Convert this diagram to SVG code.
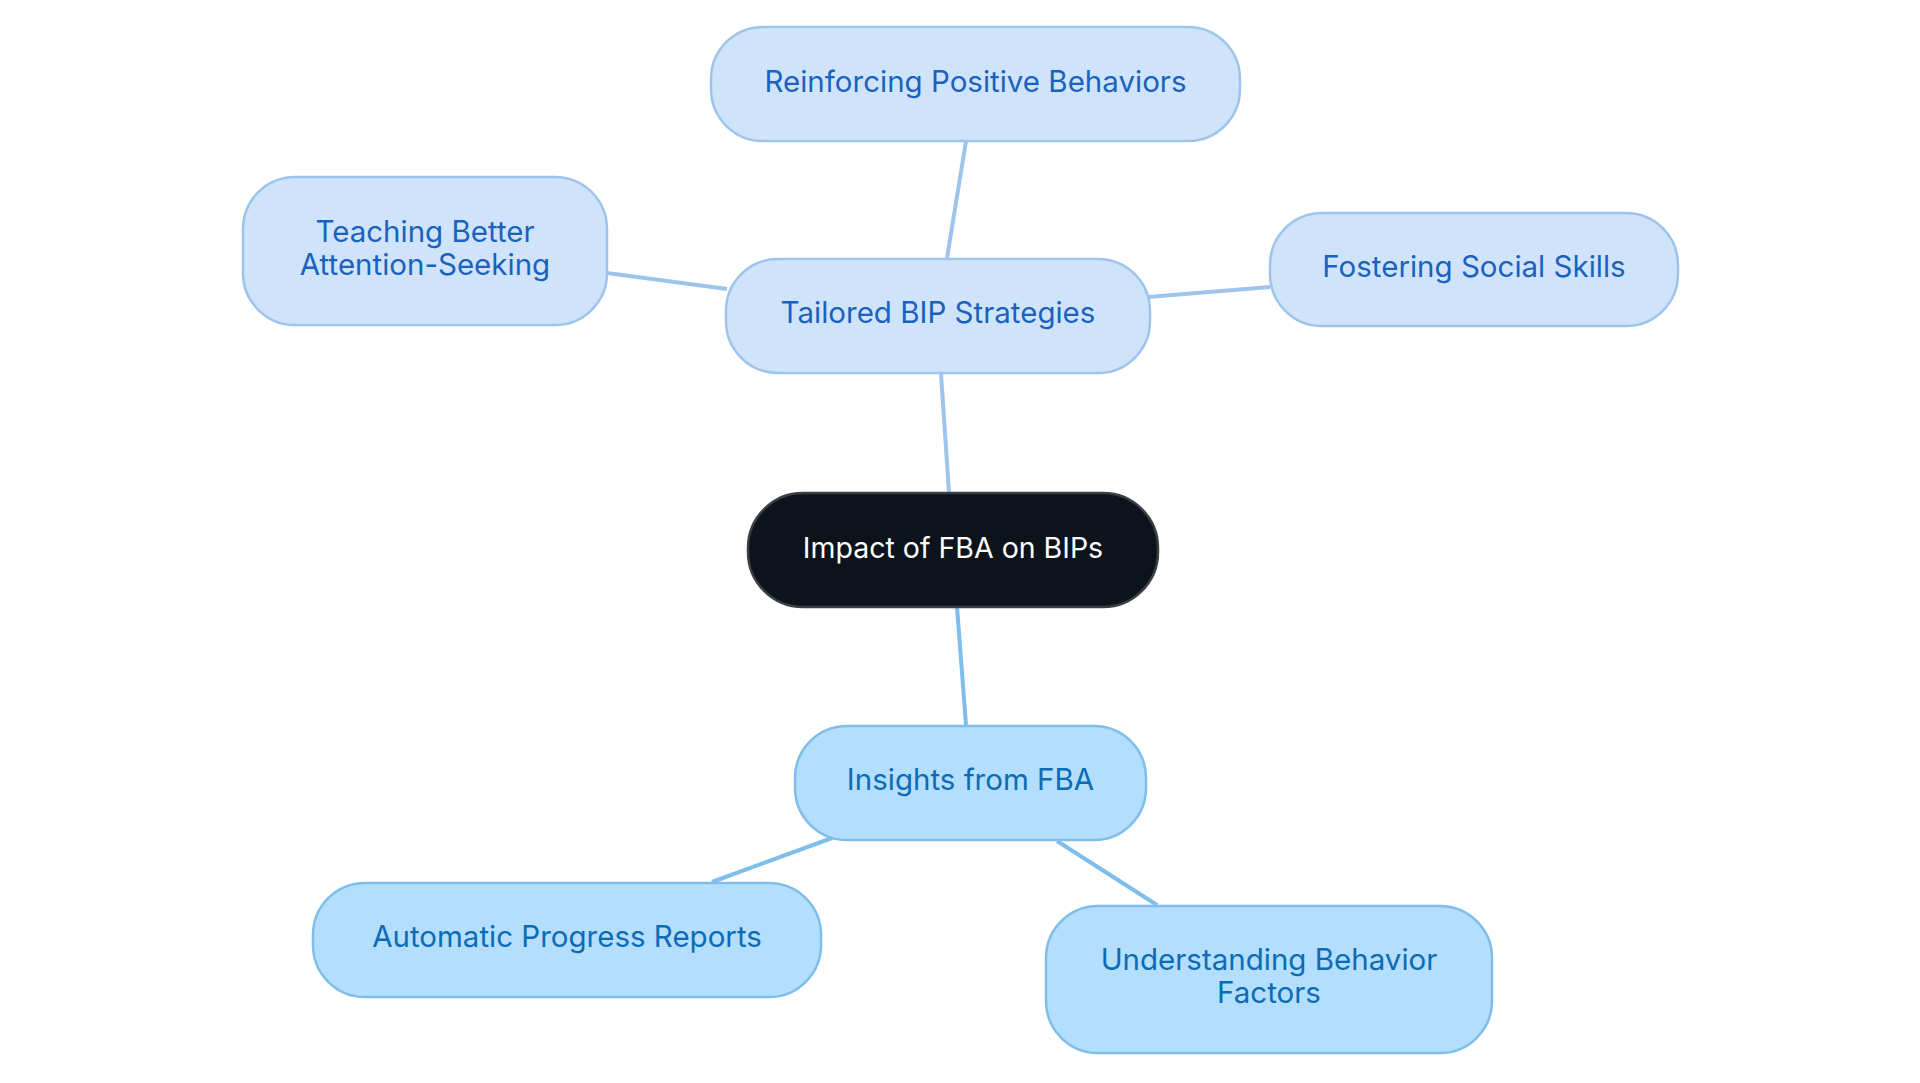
<svg xmlns="http://www.w3.org/2000/svg" width="1920" height="1083" viewBox="0 0 1920 1083">
<style>
.top rect{fill:#cfe4fb;stroke:#9ec4ec;stroke-width:2.5}
.top text{fill:#1a62bd}
.bot rect{fill:#b3defd;stroke:#7fbeea;stroke-width:2.5}
.bot text{fill:#0b6cb5}
text{font-family:Inter,"Noto Sans",sans-serif;font-size:29.5px;text-anchor:middle}
.root rect{fill:#0c131a;stroke:#3a3f45;stroke-width:2.5}
.root text{fill:#ffffff;font-size:28.5px}
.et{stroke:#9ec4ec;stroke-width:4;fill:none}
.eb{stroke:#7fbeea;stroke-width:4;fill:none}
</style>
<rect width="1920" height="1083" fill="#ffffff"/>
<g id="connectors">
<line class="et" x1="966" y1="141" x2="947" y2="258"/>
<line class="et" x1="607" y1="273" x2="727" y2="289"/>
<line class="et" x1="1148" y1="297" x2="1270" y2="287"/>
<line class="et" x1="941" y1="374" x2="949" y2="492"/>
<line class="eb" x1="957" y1="607" x2="966" y2="725"/>
<line class="eb" x1="832" y1="838" x2="712" y2="882"/>
<line class="eb" x1="1057" y1="841" x2="1157" y2="905"/>
</g>
<g id="root" class="root">
<rect x="748" y="493" width="410" height="114" rx="55"/>
<text x="953" y="558">Impact of FBA on BIPs</text>
</g>
<g id="tailored" class="top">
<rect x="726" y="259" width="424" height="114" rx="52"/>
<text x="938" y="323">Tailored BIP Strategies</text>
</g>
<g id="reinforcing" class="top">
<rect x="711" y="27" width="529" height="114" rx="52"/>
<text x="975.5" y="92">Reinforcing Positive Behaviors</text>
</g>
<g id="teaching" class="top">
<rect x="243" y="177" width="364" height="148" rx="52"/>
<text x="425" y="242">Teaching Better</text>
<text x="425" y="275">Attention-Seeking</text>
</g>
<g id="fostering" class="top">
<rect x="1270" y="213" width="408" height="113" rx="52"/>
<text x="1474" y="277">Fostering Social Skills</text>
</g>
<g id="insights" class="bot">
<rect x="795" y="726" width="351" height="114" rx="52"/>
<text x="970.5" y="790">Insights from FBA</text>
</g>
<g id="automatic" class="bot">
<rect x="313" y="883" width="508" height="114" rx="52"/>
<text x="567" y="947">Automatic Progress Reports</text>
</g>
<g id="understanding" class="bot">
<rect x="1046" y="906" width="446" height="147" rx="52"/>
<text x="1269" y="970">Understanding Behavior</text>
<text x="1269" y="1003">Factors</text>
</g>
</svg>
